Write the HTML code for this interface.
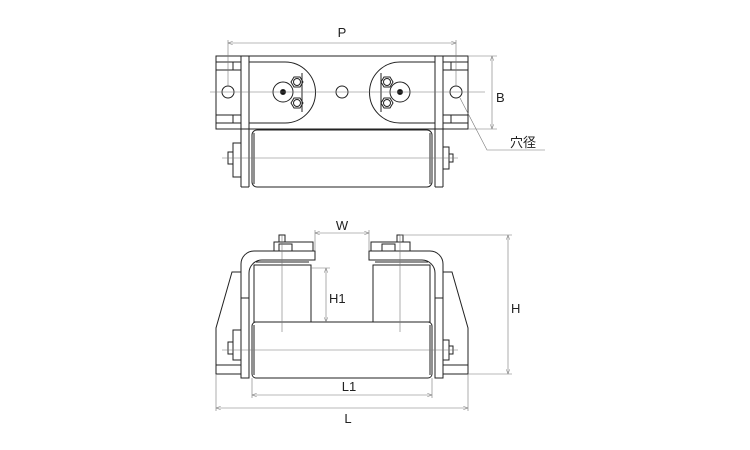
<!DOCTYPE html>
<html><head><meta charset="utf-8"><style>
html,body{margin:0;padding:0;background:#fff;}
svg{display:block;}
text{font-family:"Liberation Sans","Noto Sans CJK JP",sans-serif;font-size:13px;fill:#222;}
</style></head><body>
<svg width="750" height="450" viewBox="0 0 750 450" xmlns="http://www.w3.org/2000/svg">
<defs>
<marker id="a" markerWidth="8" markerHeight="6" refX="8" refY="3" orient="auto-start-reverse"><path d="M0,0 L8,3 L0,6" fill="none" stroke="#777" stroke-width="0.8"/></marker>
</defs>
<g fill="none" stroke="#222" stroke-width="1">
<!-- TOP VIEW -->
<rect x="216" y="56" width="252" height="73"/>
<line x1="216" y1="62" x2="241" y2="62"/><line x1="216" y1="70" x2="241" y2="70"/>
<line x1="216" y1="115" x2="241" y2="115"/><line x1="216" y1="123" x2="241" y2="123"/>
<line x1="233" y1="62" x2="233" y2="70"/><line x1="233" y1="115" x2="233" y2="123"/>
<line x1="443" y1="62" x2="468" y2="62"/><line x1="443" y1="70" x2="468" y2="70"/>
<line x1="443" y1="115" x2="468" y2="115"/><line x1="443" y1="123" x2="468" y2="123"/>
<line x1="451" y1="62" x2="451" y2="70"/><line x1="451" y1="115" x2="451" y2="123"/>
<line x1="241" y1="56" x2="241" y2="187"/><line x1="249" y1="56" x2="249" y2="187"/>
<line x1="435" y1="56" x2="435" y2="187"/><line x1="443" y1="56" x2="443" y2="187"/>
<line x1="241" y1="187" x2="249" y2="187"/><line x1="435" y1="187" x2="443" y2="187"/>
<path d="M249,62 H285 A30.5,30.5 0 0 1 285,123 H249"/>
<path d="M435,62 H400 A30.5,30.5 0 0 0 400,123 H435"/>
<circle cx="228" cy="92" r="6"/><circle cx="342" cy="92" r="6"/><circle cx="456" cy="92" r="6"/>
<circle cx="283" cy="92" r="10"/><circle cx="283" cy="92" r="2.5" fill="#111"/>
<circle cx="400" cy="92" r="10"/><circle cx="400" cy="92" r="2.5" fill="#111"/>
<polygon points="291,82 294,77 300,77 303,82 300,87 294,87"/>
<polygon points="291,103 294,98 300,98 303,103 300,108 294,108"/>
<circle cx="297" cy="82" r="3.5"/><circle cx="297" cy="103" r="3.5"/>
<line x1="302" y1="73" x2="302" y2="112"/>
<polygon points="381,82 384,77 390,77 393,82 390,87 384,87"/>
<polygon points="381,103 384,98 390,98 393,103 390,108 384,108"/>
<circle cx="387" cy="82" r="3.5"/><circle cx="387" cy="103" r="3.5"/>
<line x1="381" y1="73" x2="381" y2="112"/>
<line x1="249" y1="129" x2="435" y2="129"/>
<rect x="252" y="130" width="180" height="57" rx="5"/>
<line x1="254" y1="133" x2="254" y2="184"/><line x1="430" y1="133" x2="430" y2="184"/>
<rect x="233" y="143" width="8" height="34"/><rect x="228" y="152" width="5" height="12"/>
<rect x="443" y="147" width="6" height="22"/><rect x="449" y="154" width="4" height="8"/>
<!-- FRONT VIEW -->
<path d="M241,378 V264 A13,13 0 0 1 254,251 H315 V260 H262 A13,13 0 0 0 249,273 V378 Z"/>
<path d="M443,378 V264 A13,13 0 0 0 430,251 H369 V260 H422 A13,13 0 0 1 435,273 V378 Z"/>
<path d="M241,272 H232 L216,328 V374 H241"/><line x1="216" y1="365" x2="241" y2="365"/>
<path d="M443,272 H452 L468,328 V374 H443"/><line x1="468" y1="365" x2="443" y2="365"/>
<line x1="241" y1="298" x2="249" y2="298"/><line x1="435" y1="298" x2="443" y2="298"/>
<rect x="254" y="265" width="57" height="57"/><rect x="373" y="265" width="57" height="57"/>
<line x1="256" y1="262" x2="309" y2="262"/><line x1="375" y1="262" x2="428" y2="262"/>
<rect x="274" y="242" width="39" height="9"/><rect x="279" y="244" width="13" height="7"/>
<rect x="371" y="242" width="39" height="9"/><rect x="382" y="244" width="13" height="7"/>
<rect x="279" y="235" width="6" height="7"/><rect x="397" y="235" width="6" height="7"/>
<rect x="252" y="322" width="180" height="56" rx="4"/>
<line x1="254" y1="325" x2="254" y2="375"/><line x1="430" y1="325" x2="430" y2="375"/>
<rect x="233" y="330" width="8" height="30"/><rect x="228" y="342" width="5" height="12"/>
<rect x="443" y="340" width="6" height="20"/><rect x="449" y="346" width="4" height="8"/>
</g>
<g fill="none" stroke="#777" stroke-width="0.6">
<line x1="210" y1="92" x2="485" y2="92"/>
<line x1="222" y1="158" x2="458" y2="158"/>
<line x1="222" y1="350" x2="458" y2="350"/>
<line x1="282" y1="235" x2="282" y2="332"/>
<line x1="400" y1="235" x2="400" y2="332"/>
<line x1="228" y1="40" x2="228" y2="86"/><line x1="456" y1="40" x2="456" y2="86"/>
<line x1="228" y1="43" x2="456" y2="43" marker-start="url(#a)" marker-end="url(#a)"/>
<line x1="468" y1="56" x2="497" y2="56"/><line x1="468" y1="129" x2="497" y2="129"/>
<line x1="492" y1="56" x2="492" y2="129" marker-start="url(#a)" marker-end="url(#a)"/>
<polyline points="460,98 487,150 545,150"/>
<line x1="315" y1="230" x2="315" y2="251"/><line x1="369" y1="230" x2="369" y2="251"/>
<line x1="315" y1="233" x2="369" y2="233" marker-start="url(#a)" marker-end="url(#a)"/>
<line x1="311" y1="268" x2="330" y2="268"/>
<line x1="326" y1="268" x2="326" y2="322" marker-start="url(#a)" marker-end="url(#a)"/>
<line x1="400" y1="235" x2="512" y2="235"/><line x1="468" y1="374" x2="512" y2="374"/>
<line x1="508" y1="235" x2="508" y2="374" marker-start="url(#a)" marker-end="url(#a)"/>
<line x1="252" y1="378" x2="252" y2="398"/><line x1="432" y1="378" x2="432" y2="398"/>
<line x1="252" y1="395" x2="432" y2="395" marker-start="url(#a)" marker-end="url(#a)"/>
<line x1="216" y1="374" x2="216" y2="411"/><line x1="468" y1="374" x2="468" y2="411"/>
<line x1="216" y1="408" x2="468" y2="408" marker-start="url(#a)" marker-end="url(#a)"/>
</g>
<text x="342" y="37" text-anchor="middle">P</text>
<text x="496" y="102">B</text>
<text x="510" y="147">穴径</text>
<text x="342" y="230" text-anchor="middle">W</text>
<text x="329" y="303">H1</text>
<text x="511" y="313">H</text>
<text x="349" y="391" text-anchor="middle">L1</text>
<text x="348" y="423" text-anchor="middle">L</text>
</g>
</svg>
</body></html>
